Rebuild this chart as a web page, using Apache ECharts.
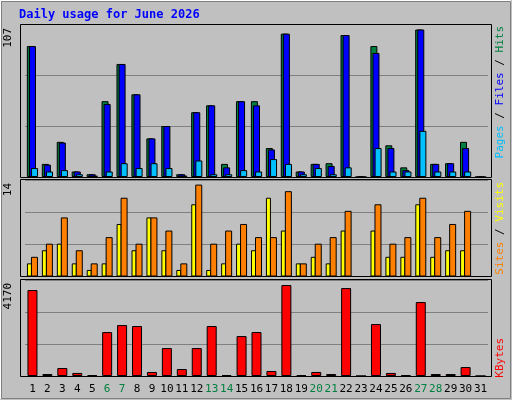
<!DOCTYPE html>
<html><head><meta charset="utf-8">
<script src="https://cdn.jsdelivr.net/npm/echarts@6/dist/echarts.min.js"></script>
<style>html,body{margin:0;padding:0;background:#c0c0c0}#c{width:512px;height:400px}</style>
</head><body><div id="c"></div>
<script>
const days = Array.from({length:31},(_,i)=>String(i+1));
const weekend = ['6','7','13','14','20','21','27','28'];
const hits  = [95,9.5,25.5,4,2,55,82,60,28,37,2,47,52,9.5,55,55,21,104,4,9.5,10,103,0,95,23,7,107,9.5,10,25.5,0];
const files = [95,9,25,4,2,53,82,60,28,37,2,47,52,7,55,52,20,104,4,9.5,8,103,0,90,21,5,107,9.5,10,21,0];
const pages = [6.5,4,5,2,1,4,10,6.5,10,6.5,1,12,2,2,5,4,13,9.5,2,6.5,2,7,0,21,4,4,33.5,4,4,4,0];
const visits= [2,4,5,2,1,2,8,4,9,4,1,11,1,2,5,4,12,7,2,3,2,7,0,7,3,3,11,3,4,4,0];
const sites = [3,5,9,4,2,6,12,5,9,7,2,14,5,7,8,6,6,13,2,5,6,10,0,11,5,6,12,6,8,10,0];
const kbytes= [3940,90,365,140,45,2015,2335,2290,185,1280,320,1280,2290,45,1830,2015,230,4170,45,185,90,4030,0,2380,140,45,3390,90,90,410,0];
const maxLabels = ['107','14','4170'];

const font = 'DejaVu Sans Mono';
const ch = echarts.init(document.getElementById('c'));
const ob = {borderColor:'#000',borderWidth:1};
function grid(top,h){return {left:25,right:24,top:top,height:h};}
function yax(i,max){return {gridIndex:i,type:'value',min:0,max:max,interval:max/3,axisLabel:{show:false},axisLine:{show:false},axisTick:{show:false},splitLine:{lineStyle:{color:'#808080',width:1}}};}
function xax(i,show){return {gridIndex:i,type:'category',data:days,axisLine:{show:false},axisTick:{show:false},
  axisLabel:{show:show,margin:8,fontFamily:font,fontSize:11,interval:0,formatter:v=>weekend.includes(v)?'{w|'+v+'}':v,color:'#000',rich:{w:{color:'#008040',fontFamily:font,fontSize:11}}}};}
function rect(x,y,w,h){return {type:'rect',shape:{x:x,y:y,width:w,height:h},style:{fill:'none',stroke:'#000',lineWidth:1},z:10};}
function vtext(x,y,rich,txt){return {type:'text',x:x,y:y,rotation:Math.PI/2,style:{text:txt,rich:rich,font:'11px '+font,align:'right',verticalAlign:'middle'},z:10};}
ch.setOption({
  animation:false,
  backgroundColor:'#c0c0c0',
  grid:[grid(24,153),grid(180,96.5),grid(280,96)],
  xAxis:[xax(0,false),xax(1,false),xax(2,true)],
  yAxis:[yax(0,111),yax(1,14.7),yax(2,4400)],
  series:[
    {type:'bar',xAxisIndex:0,yAxisIndex:0,data:hits,barWidth:7,barGap:'-70%',itemStyle:Object.assign({color:'#008040'},ob)},
    {type:'bar',xAxisIndex:0,yAxisIndex:0,data:files,barWidth:7,barGap:'-70%',itemStyle:Object.assign({color:'#0000ff'},ob)},
    {type:'bar',xAxisIndex:0,yAxisIndex:0,data:pages,barWidth:7,barGap:'-70%',itemStyle:Object.assign({color:'#00c0ff'},ob)},
    {type:'bar',xAxisIndex:1,yAxisIndex:1,data:visits,barWidth:5,barGap:'-20%',itemStyle:Object.assign({color:'#ffff00'},ob)},
    {type:'bar',xAxisIndex:1,yAxisIndex:1,data:sites,barWidth:7,barGap:'-20%',itemStyle:Object.assign({color:'#ff8000'},ob)},
    {type:'bar',xAxisIndex:2,yAxisIndex:2,data:kbytes,barWidth:10,itemStyle:Object.assign({color:'#ff0000'},ob)}
  ],
  graphic:[
    {type:'rect',shape:{x:0.5,y:0.5,width:510,height:398},style:{fill:'none',stroke:'#ffffff',lineWidth:1}},
    {type:'rect',shape:{x:1.5,y:1.5,width:509,height:397},style:{fill:'none',stroke:'#808080',lineWidth:1}},
    {type:'text',left:19,top:9,style:{text:'Daily usage for June 2026',font:'bold 12px '+font,fill:'#0000ff'}},
    rect(20.5,24.5,471,153),rect(20.5,179.5,471,97),rect(20.5,279.5,471,97),
    {type:'text',x:8,y:28,rotation:Math.PI/2,style:{text:maxLabels[0],font:'11px '+font,fill:'#000',align:'right',verticalAlign:'middle'}},
    {type:'text',x:8,y:183,rotation:Math.PI/2,style:{text:maxLabels[1],font:'11px '+font,fill:'#000',align:'right',verticalAlign:'middle'}},
    {type:'text',x:8,y:283,rotation:Math.PI/2,style:{text:maxLabels[2],font:'11px '+font,fill:'#000',align:'right',verticalAlign:'middle'}},
    vtext(500,26,{p:{fill:'#00c0ff',font:'11px '+font},f:{fill:'#0000ff',font:'11px '+font},h:{fill:'#008040',font:'11px '+font},s:{fill:'#000',font:'11px '+font}},'{p|Pages}{s| / }{f|Files}{s| / }{h|Hits}'),
    vtext(500,182,{a:{fill:'#ff8000',font:'11px '+font},b:{fill:'#ffff00',font:'11px '+font},s:{fill:'#000',font:'11px '+font}},'{a|Sites}{s| / }{b|Visits}'),
    vtext(500,338,{k:{fill:'#ff0000',font:'11px '+font}},'{k|KBytes}')
  ]
});
</script></body></html>
